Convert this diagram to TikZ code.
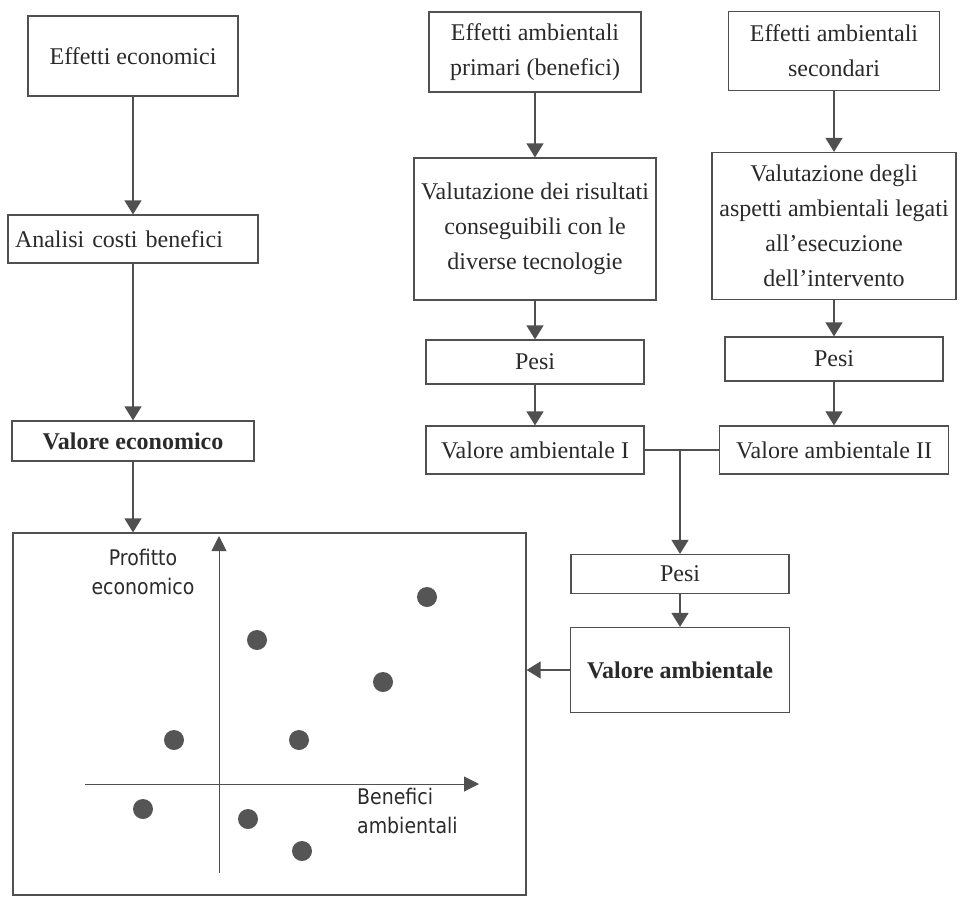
\documentclass[tikz,border=0pt]{standalone}
\usepackage{fontspec}
\setmainfont{Liberation Serif}
\newfontfamily\plotfont[FakeStretch=0.88]{DejaVu Sans}
\usetikzlibrary{arrows.meta}
\definecolor{linegray}{HTML}{505050}
\definecolor{textgray}{HTML}{2A2A2A}
\definecolor{dotgray}{HTML}{555555}

\begin{document}
\begin{tikzpicture}[x=1pt,y=-1pt,>={Triangle[width=17pt,length=14pt]},
    box/.style={draw=linegray,line width=1.2pt,text=textgray,inner sep=0pt,align=center,font=\fontsize{24}{35}\selectfont},
    boldbox/.style={box,font=\fontsize{24}{35}\selectfont\bfseries},
    flow/.style={->,draw=linegray,line width=1.2pt},
    axis/.style={->,>={Triangle[width=15pt,length=15pt]},draw=linegray,line width=1pt},
    plotlabel/.style={text=textgray,inner sep=0pt,font=\plotfont\fontsize{21.5}{29}\selectfont}]
      \useasboundingbox (0,0) rectangle (966,902);

      % Branch 1: economic
      \node[box,minimum width=210,minimum height=80] (eco) at (133,56) {Effetti economici};
      \node[box,minimum width=250,minimum height=48,text width=236,align=left] (acb) at (133,239) {Analisi costi benefici};
      \node[boldbox,minimum width=242,minimum height=40] (veco) at (133,441) {Valore economico};

      % Branch 2: primary effects
      \node[box,minimum width=212,minimum height=80] (prim) at (535,52) {Effetti ambientali\\primari (benefici)};
      \node[box,minimum width=242,minimum height=142] (val1) at (535,229) {Valutazione dei risultati\\conseguibili con le\\diverse tecnologie};
      \node[box,minimum width=218,minimum height=44] (pesi1) at (535,362) {Pesi};
      \node[box,minimum width=218,minimum height=48] (vamb1) at (535,450) {Valore ambientale I};

      % Branch 3: secondary effects
      \node[box,minimum width=211,minimum height=79] (sec) at (834,51) {Effetti ambientali\\secondari};
      \node[box,minimum width=244,minimum height=147] (val2) at (834,226) {Valutazione degli\\aspetti ambientali legati\\all'esecuzione\\dell'intervento};
      \node[box,minimum width=218,minimum height=44] (pesi2) at (834,359) {Pesi};
      \node[box,minimum width=229,minimum height=48] (vamb2) at (834,450) {Valore ambientale II};

      % Merge
      \coordinate (join) at (680,450);
      \node[box,minimum width=218,minimum height=39] (pesi3) at (680,574) {Pesi};
      \node[boldbox,minimum width=219,minimum height=85] (vamb3) at (680,670) {Valore ambientale};

      % Plot
      \node[box,minimum width=513,minimum height=362] (plot) at (269.5,714) {};
      \coordinate (xs) at (85,784);
      \coordinate (xe) at (479,784);
      \coordinate (ys) at (219,873);
      \coordinate (ye) at (219,536);
      \draw[axis] (xs) -- (xe);
      \draw[axis] (ys) -- (ye);
      \node[plotlabel,align=center] (ylab) at (143,572) {Profitto\\economico};
      \node[plotlabel,align=left,anchor=west] (xlab) at (357,811) {Benefici\\ambientali};
      \foreach \px/\py in {427/597,257/640,383/682,174/740,299/740,143/809,248/819,302/851}
        \fill[dotgray] (\px,\py) circle (10pt);

      % Edges
      \draw[flow] (eco) -- (acb);
      \draw[flow] (acb) -- (veco);
      \draw[flow] (veco.south) -- (veco.south |- plot.north);
      \draw[flow] (prim) -- (val1);
      \draw[flow] (val1) -- (pesi1);
      \draw[flow] (pesi1) -- (vamb1);
      \draw[flow] (sec) -- (val2);
      \draw[flow] (val2) -- (pesi2);
      \draw[flow] (pesi2) -- (vamb2);
      \draw[draw=linegray,line width=1.2pt] (vamb1.east) -- (vamb2.west);
      \draw[flow] (join) -- (pesi3);
      \draw[flow] (pesi3) -- (vamb3);
      \draw[flow] (vamb3.west) -- (vamb3.west -| plot.east);
    \end{tikzpicture}
\end{document}
